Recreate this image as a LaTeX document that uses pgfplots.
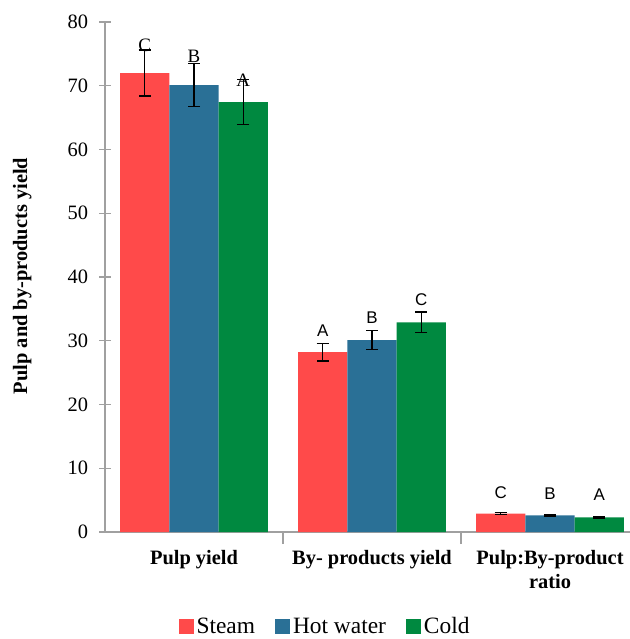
\documentclass[border=0pt]{standalone}
\usepackage{fontspec}
\setmainfont{Liberation Serif}
\newfontfamily\sansletters{Liberation Sans}
\usepackage{pgfplots}
\pgfplotsset{compat=1.18}
\usepackage{pgfplotstable}

\definecolor{steam}{RGB}{255,74,74}
\definecolor{hotwater}{RGB}{42,112,150}
\definecolor{cold}{RGB}{0,137,64}
\definecolor{axisgray}{RGB}{160,160,160}

% x  mean  sd
\pgfplotstableread{
x  y      e
0  72.0   3.6
1  28.2   1.35
2  2.9    0.12
}\steamdata
\pgfplotstableread{
x  y      e
0  70.1   3.4
1  30.1   1.5
2  2.6    0.12
}\hotdata
\pgfplotstableread{
x  y      e
0  67.45  3.55
1  32.9   1.6
2  2.3    0.12
}\colddata

\begin{document}
\begin{tikzpicture}
\useasboundingbox (0,0) rectangle (630bp,639bp);
\begin{axis}[
  at={(105bp,107bp)}, anchor=south west,
  scale only axis,
  width=534bp, height=510bp,
  xmin=-0.5, xmax=2.5,
  ymin=0, ymax=80,
  ytick={0,10,...,80},
  yticklabel={\pgfmathprintnumber[assume math mode=true]{\tick}},
  xtick={0,1,2},
  xticklabels={Pulp yield,By- products yield,Pulp:By-product\\ratio},
  minor xtick={0.5,1.5},
  major x tick style={draw=none},
  tick align=center,
  major tick length=11bp,
  minor tick length=12bp,
  axis lines=left,
  axis line style={axisgray, line width=1.2bp, -},
  tick style={axisgray, line width=1.1bp},
  yticklabel style={font=\rmfamily\fontsize{20.5}{23}\selectfont, xshift=-8bp},
  xticklabel style={font=\bfseries\fontsize{20.5}{24}\selectfont, align=center, yshift=-4bp},
  ylabel={\bfseries Pulp and by-products yield},
  ylabel style={font=\fontsize{20.5}{24}\selectfont, at={(axis description cs:-0.155,0.502)}, anchor=center},
  ybar,
  bar width=0.277,
  clip=false,
  legend columns=3,
  legend style={draw=none, at={(0.412,-0.185)}, anchor=center,
    font=\fontsize{23.5}{26}\selectfont,
    /tikz/every odd column/.style={column sep=1bp},
    /tikz/every even column/.style={column sep=18bp}},
  legend image code/.code={\fill[#1,draw=none] (0bp,-7.5bp) rectangle (15bp,7.5bp);},
  error bars/y dir=both, error bars/y explicit,
  error bars/error bar style={black, line width=1.4bp},
  error bars/error mark options={rotate=90, mark size=6bp, black, line width=1.4bp},
]
\addplot[fill=steam, draw=none, bar shift=-0.277] table[x=x, y=y, y error=e] {\steamdata};
\addplot[fill=hotwater, draw=none, bar shift=0] table[x=x, y=y, y error=e] {\hotdata};
\addplot[fill=cold, draw=none, bar shift=0.277] table[x=x, y=y, y error=e] {\colddata};
\legend{Steam,Hot water,Cold}

% significance letters
\begin{scope}[font=\fontsize{19}{22}\selectfont]
\node at (axis cs:-0.277,76.4) {C};
\node at (axis cs:0,74.6) {B};
\node at (axis cs:0.277,70.9) {A};
\end{scope}
\begin{scope}[font=\sansletters\fontsize{17}{20}\selectfont]
\node at (axis cs:0.723,31.6) {A};
\node at (axis cs:1,33.6) {B};
\node at (axis cs:1.277,36.5) {C};
\node at (axis cs:1.723,6.1) {C};
\node at (axis cs:2,6.0) {B};
\node at (axis cs:2.277,5.8) {A};
\end{scope}
\end{axis}
\end{tikzpicture}
\end{document}
